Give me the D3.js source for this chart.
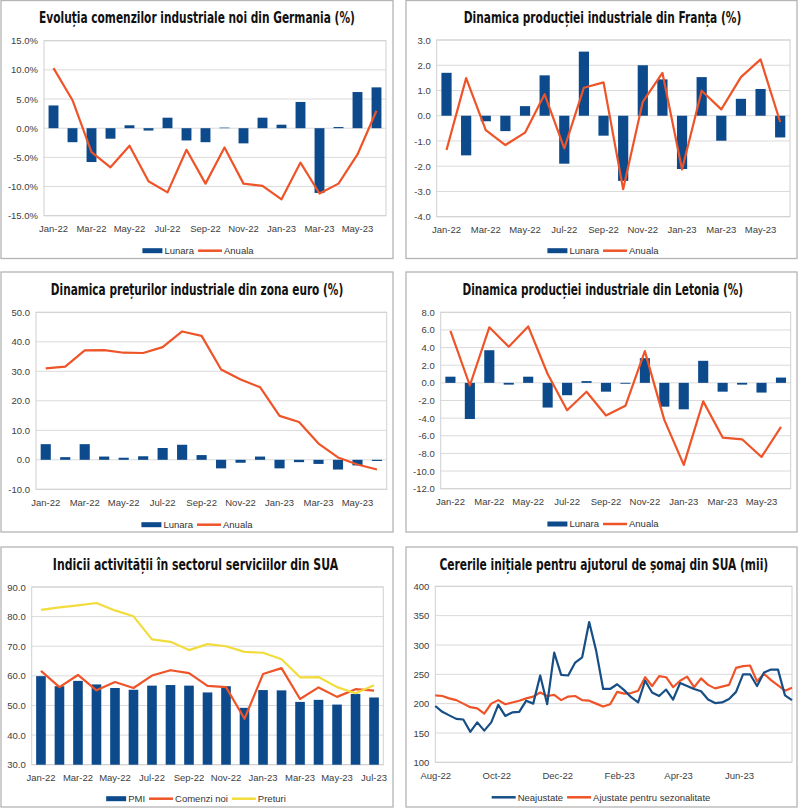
<!DOCTYPE html>
<html>
<head>
<meta charset="utf-8">
<script src="https://cdn.jsdelivr.net/npm/d3@7"></script>
<style>
  body { margin: 0; background: #fff; }
  svg { display: block; }
</style>
</head>
<body>
<div id="chart"></div>
<script>
// Categories
const months18 = ["Jan-22","Feb-22","Mar-22","Apr-22","May-22","Jun-22","Jul-22","Aug-22","Sep-22",
                  "Oct-22","Nov-22","Dec-22","Jan-23","Feb-23","Mar-23","Apr-23","May-23","Jun-23"];
const months19 = months18.concat(["Jul-23"]);

// Germania - comenzi industriale (%)
const germanyLunara = [3.9, -2.4, -5.8, -1.8, 0.5, -0.4, 1.8, -2.1, -2.4, 0.1, -2.6, 1.8, 0.6, 4.5, -11.1, 0.2, 6.2, 7.0];
const germanyAnuala = [10.3, 4.8, -4.1, -6.7, -3.0, -9.1, -11.0, -3.7, -9.5, -3.3, -9.5, -9.9, -12.2, -5.9, -11.2, -9.5, -4.5, 3.0];
const germanyTicks = [-15, -10, -5, 0, 5, 10, 15];

// Franta - productie industriala (%)
const franceLunara = [1.7, -1.57, -0.22, -0.61, 0.38, 1.6, -1.9, 2.54, -0.79, -2.58, 2.0, 1.44, -2.11, 1.53, -0.99, 0.67, 1.06, -0.86];
const franceAnuala = [-1.36, 1.49, -0.57, -1.16, -0.67, 0.85, -1.29, 1.11, 1.32, -2.91, 0.55, 1.7, -2.13, 0.99, 0.25, 1.53, 2.23, -0.25];
const franceTicks = [-4, -3, -2, -1, 0, 1, 2, 3];

// Zona euro - preturi industriale (%)
const euroLunara = [5.3, 0.9, 5.3, 1.1, 0.7, 1.2, 4.0, 5.1, 1.6, -2.9, -1.0, 1.1, -2.9, -0.8, -1.4, -3.3, -1.9, -0.4];
const euroAnuala = [31.0, 31.6, 37.1, 37.2, 36.3, 36.2, 38.2, 43.5, 42.0, 30.6, 27.2, 24.6, 14.9, 12.8, 5.5, 0.8, -1.6, -3.3];
const euroTicks = [-10, 0, 10, 20, 30, 40, 50];

// Letonia - productie industriala (%)
const latviaLunara = [0.7, -4.1, 3.7, -0.2, 0.7, -2.8, -1.4, 0.2, -1.0, -0.1, 2.8, -2.7, -3.0, 2.5, -1.0, -0.2, -1.1, 0.6];
const latviaAnuala = [5.9, -0.3, 6.3, 4.1, 6.4, 1.0, -3.1, -1.0, -3.7, -2.6, 3.6, -4.2, -9.3, -2.1, -6.2, -6.4, -8.4, -5.0];
const latviaTicks = [-12, -10, -8, -6, -4, -2, 0, 2, 4, 6, 8];

// SUA - servicii
const usPmi = [59.9, 56.5, 58.3, 57.1, 55.9, 55.3, 56.7, 56.9, 56.7, 54.4, 56.5, 49.2, 55.2, 55.1, 51.2, 51.9, 50.3, 53.9, 52.7];
const usComenzi = [61.7, 56.2, 60.3, 55.1, 57.9, 55.9, 60.1, 61.9, 60.9, 56.6, 56.2, 45.5, 60.6, 62.6, 52.2, 56.1, 52.9, 55.5, 55.0];
const usPreturi = [82.3, 83.1, 83.8, 84.6, 82.1, 80.1, 72.3, 71.5, 68.7, 70.7, 70.0, 68.1, 67.8, 65.6, 59.5, 59.6, 56.2, 54.1, 56.8];
const usTicks = [30, 40, 50, 60, 70, 80, 90];

// SUA - cereri initiale somaj (mii), saptamanal
const claimsStart = "2022-08-06";
const claimsNeajustate = [196, 186, 180, 174, 173, 152, 168, 154, 168, 198, 179, 185, 186, 205, 200, 248, 199, 287, 249, 248,
                          270, 279, 339, 290, 225, 225, 233, 223, 211, 202, 239, 219, 213, 224, 207, 235, 230, 225, 221, 207,
                          201, 202, 208, 220, 250, 250, 230, 253, 258, 258, 214, 206];
const claimsAjustate = [214, 213, 209, 206, 200, 194, 192, 183, 200, 206, 199, 202, 205, 209, 212, 219, 213, 215, 206, 212,
                        213, 206, 205, 200, 195, 199, 220, 217, 218, 222, 245, 230, 247, 245, 228, 239, 246, 228, 243, 232,
                        226, 229, 232, 261, 264, 265, 238, 251, 240, 231, 222, 227];
const claimsTicks = [100, 150, 200, 250, 300, 350, 400];

const BLUE = "#0d4a8b";
const RED = "#ee5428";
const YELLOW = "#f2dc3c";
const NAVY = "#164e85";
const axisFont = "'Liberation Sans', Arial, sans-serif";
const titleFont = "'DejaVu Sans Condensed', 'DejaVu Sans', sans-serif";

const svg = d3.select("#chart").append("svg")
    .attr("width", 800)
    .attr("height", 808);

// panel frames
const frames = [
    { x: 1, y: 0.5, w: 392, h: 258 },
    { x: 406, y: 0.5, w: 391, h: 258 },
    { x: 1, y: 272, w: 392, h: 260 },
    { x: 406, y: 272, w: 391, h: 260 },
    { x: 1, y: 547, w: 392, h: 260 },
    { x: 406, y: 547, w: 391, h: 260 }
];
svg.selectAll(".frame")
    .data(frames)
    .enter()
    .append("rect")
    .attr("class", "frame")
    .attr("x", d => d.x)
    .attr("y", d => d.y)
    .attr("width", d => d.w)
    .attr("height", d => d.h)
    .attr("fill", "#fff")
    .attr("stroke", "#b4b4b4")
    .attr("stroke-width", 1.3);

// titles are squeezed horizontally to the condensed look of the original
function drawTitle(text, cx, baseline, width) {
    const t = svg.append("text")
        .attr("text-anchor", "middle")
        .attr("font-family", titleFont)
        .attr("font-stretch", "condensed")
        .attr("font-weight", "bold")
        .attr("font-size", 15.5)
        .attr("fill", "#111")
        .text(text);
    const natural = t.node().getComputedTextLength();
    t.attr("transform", `translate(${cx},${baseline}) scale(${width / natural},1)`);
}

function drawLegend(items, cx, cy) {
    const g = svg.append("g");
    let x = 0;
    items.forEach(item => {
        if (item.type === "bar") {
            g.append("rect")
                .attr("x", x).attr("y", cy - 2.5)
                .attr("width", 20).attr("height", 5)
                .attr("fill", item.color);
            x += 22;
        } else {
            g.append("line")
                .attr("x1", x).attr("x2", x + 24)
                .attr("y1", cy).attr("y2", cy)
                .attr("stroke", item.color)
                .attr("stroke-width", 2.5);
            x += 26;
        }
        const t = g.append("text")
            .attr("x", x).attr("y", cy)
            .attr("dy", "0.35em")
            .attr("font-family", axisFont)
            .attr("font-size", 9.5)
            .attr("fill", "#333")
            .text(item.label);
        x += t.node().getComputedTextLength() + 4;
    });
    g.attr("transform", `translate(${cx - (x - 4) / 2},0)`);
}

function drawGrid(y, ticks, left, right, top, bottom) {
    svg.append("g")
        .selectAll("line")
        .data(ticks)
        .enter()
        .append("line")
        .attr("x1", left).attr("x2", right)
        .attr("y1", d => y(d)).attr("y2", d => y(d))
        .attr("stroke", "#dadada")
        .attr("stroke-width", 1);

    svg.append("rect")
        .attr("x", left).attr("y", top)
        .attr("width", right - left).attr("height", bottom - top)
        .attr("fill", "none")
        .attr("stroke", "#d0d0d0")
        .attr("stroke-width", 1);
}

function styleAxis(g) {
    g.select(".domain").remove();
    g.selectAll("text")
        .attr("font-family", axisFont)
        .attr("font-size", 9.5)
        .attr("fill", "#404040");
}

function drawYAxis(y, ticks, fmt, left) {
    svg.append("g")
        .attr("transform", `translate(${left},0)`)
        .call(d3.axisLeft(y).tickValues(ticks).tickFormat(fmt).tickSize(0).tickPadding(6))
        .call(styleAxis);
}

// bar + line panels with monthly categories
function catPanel(opt) {
    const x = d3.scaleBand()
        .domain(opt.cats)
        .range([opt.left, opt.right])
        .paddingInner(0.48)
        .paddingOuter(0.24);
    const y = d3.scaleLinear()
        .domain([opt.ticks[0], opt.ticks[opt.ticks.length - 1]])
        .range([opt.bottom, opt.top]);

    drawGrid(y, opt.ticks, opt.left, opt.right, opt.top, opt.bottom);

    const base = opt.barBase !== undefined ? opt.barBase : 0;
    svg.append("g")
        .selectAll("rect")
        .data(opt.bars)
        .enter()
        .append("rect")
        .attr("x", (d, i) => x(opt.cats[i]))
        .attr("y", d => y(Math.max(d, base)))
        .attr("width", x.bandwidth())
        .attr("height", d => Math.abs(y(d) - y(base)))
        .attr("fill", BLUE);

    opt.lines.forEach(l => {
        const line = d3.line()
            .x((d, i) => x(opt.cats[i]) + x.bandwidth() / 2)
            .y(d => y(d));
        svg.append("path")
            .datum(l.values)
            .attr("d", line)
            .attr("fill", "none")
            .attr("stroke", l.color)
            .attr("stroke-width", 2.2)
            .attr("stroke-linejoin", "round");
    });

    drawYAxis(y, opt.ticks, opt.fmt, opt.left);

    svg.append("g")
        .attr("transform", `translate(0,${opt.bottom})`)
        .call(d3.axisBottom(x)
            .tickValues(opt.cats.filter((d, i) => i % 2 === 0))
            .tickSize(0)
            .tickPadding(10))
        .call(styleAxis);
}

const fmt1 = d => d.toFixed(1);
const legendLL = [
    { type: "bar", color: BLUE, label: "Lunara" },
    { type: "line", color: RED, label: "Anuala" }
];

// Panel 1 - Germania
drawTitle("Evoluția comenzilor industriale noi din Germania (%)", 197, 23.3, 316);
catPanel({
    cats: months18, left: 44, right: 386, top: 40.7, bottom: 215.7,
    ticks: germanyTicks, fmt: d => d.toFixed(1) + "%",
    bars: germanyLunara,
    lines: [{ values: germanyAnuala, color: RED }]
});
drawLegend(legendLL, 198, 250.7);

// Panel 2 - Franta
drawTitle("Dinamica producției industriale din Franța (%)", 602.5, 23.3, 278);
catPanel({
    cats: months18, left: 436.7, right: 790, top: 40, bottom: 216.7,
    ticks: franceTicks, fmt: fmt1,
    bars: franceLunara,
    lines: [{ values: franceAnuala, color: RED }]
});
drawLegend(legendLL, 603, 250.7);

// Panel 3 - Zona euro
drawTitle("Dinamica prețurilor industriale din zona euro (%)", 197, 294.7, 292.6);
catPanel({
    cats: months18, left: 36, right: 386.7, top: 312.3, bottom: 489.3,
    ticks: euroTicks, fmt: fmt1,
    bars: euroLunara,
    lines: [{ values: euroAnuala, color: RED }]
});
drawLegend(legendLL, 197, 524.7);

// Panel 4 - Letonia
drawTitle("Dinamica producției industriale din Letonia (%)", 602.8, 294.7, 281);
catPanel({
    cats: months18, left: 440.7, right: 790.7, top: 312.3, bottom: 488.7,
    ticks: latviaTicks, fmt: fmt1,
    bars: latviaLunara,
    lines: [{ values: latviaAnuala, color: RED }]
});
drawLegend(legendLL, 603, 524);

// Panel 5 - SUA servicii
drawTitle("Indicii activității în sectorul serviciilor din SUA", 195.5, 570, 285.6);
catPanel({
    cats: months19, left: 31.7, right: 383.3, top: 587, bottom: 764.7,
    ticks: usTicks, fmt: fmt1,
    bars: usPmi, barBase: 30,
    lines: [
        { values: usComenzi, color: RED },
        { values: usPreturi, color: YELLOW }
    ]
});
drawLegend([
    { type: "bar", color: BLUE, label: "PMI" },
    { type: "line", color: RED, label: "Comenzi noi" },
    { type: "line", color: YELLOW, label: "Preturi" }
], 196, 798.7);

// Panel 6 - cereri somaj
drawTitle("Cererile inițiale pentru ajutorul de șomaj din SUA (mii)", 603.8, 570, 329);
(function () {
    const parse = d3.timeParse("%Y-%m-%d");
    const start = parse(claimsStart);
    const dates = claimsNeajustate.map((d, i) => d3.timeDay.offset(start, 7 * i));
    const left = 435.3, right = 792, top = 586.3, bottom = 762.3;

    const x = d3.scaleTime()
        .domain([dates[0], dates[dates.length - 1]])
        .range([left, right]);
    const y = d3.scaleLinear()
        .domain([100, 400])
        .range([bottom, top]);

    drawGrid(y, claimsTicks, left, right, top, bottom);

    const series = [
        { values: claimsAjustate, color: RED },
        { values: claimsNeajustate, color: NAVY }
    ];
    series.forEach(s => {
        svg.append("path")
            .datum(s.values)
            .attr("d", d3.line().x((d, i) => x(dates[i])).y(d => y(d)))
            .attr("fill", "none")
            .attr("stroke", s.color)
            .attr("stroke-width", 2.2)
            .attr("stroke-linejoin", "round");
    });

    drawYAxis(y, claimsTicks, d3.format("d"), left);

    const tickDates = d3.range(6).map(i => d3.timeMonth.offset(start, 2 * i));
    svg.append("g")
        .attr("transform", `translate(0,${bottom})`)
        .call(d3.axisBottom(x)
            .tickValues(tickDates)
            .tickFormat(d3.timeFormat("%b-%y"))
            .tickSize(0)
            .tickPadding(10))
        .call(styleAxis);
})();
drawLegend([
    { type: "line", color: NAVY, label: "Neajustate" },
    { type: "line", color: RED, label: "Ajustate pentru sezonalitate" }
], 601, 797.3);
</script>
</body>
</html>
